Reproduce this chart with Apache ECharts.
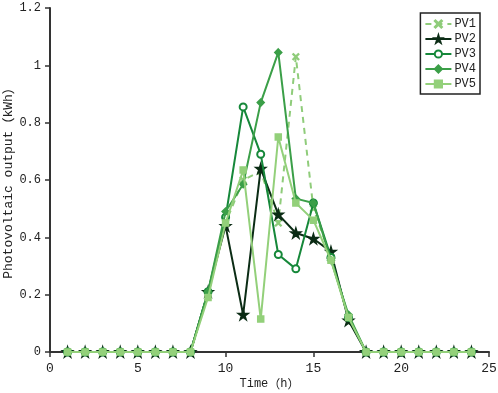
<!DOCTYPE html>
<html>
<head>
<meta charset="utf-8">
<script src="https://cdn.jsdelivr.net/npm/echarts@6/dist/echarts.min.js"></script>
<style>
  html, body { margin: 0; padding: 0; background: #fff; }
  #chart { width: 498px; height: 393px; }
</style>
</head>
<body>
<div id="chart"></div>
<script>
// hours 1..24
const hours = [1, 2, 3, 4, 5, 6, 7, 8, 9, 10, 11, 12, 13, 14, 15, 16, 17, 18, 19, 20, 21, 22, 23, 24];
const pv1 = [0, 0, 0, 0, 0, 0, 0, 0, 0.20, 0.45, 0.60, 0.63, 0.45, 1.03, 0.50, 0.33, 0.12, 0, 0, 0, 0, 0, 0, 0];
const pv2 = [0, 0, 0, 0, 0, 0, 0, 0, 0.21, 0.44, 0.13, 0.64, 0.48, 0.415, 0.395, 0.35, 0.11, 0, 0, 0, 0, 0, 0, 0];
const pv3 = [0, 0, 0, 0, 0, 0, 0, 0, 0.21, 0.47, 0.855, 0.69, 0.34, 0.29, 0.52, 0.33, 0.12, 0, 0, 0, 0, 0, 0, 0];
const pv4 = [0, 0, 0, 0, 0, 0, 0, 0, 0.21, 0.49, 0.585, 0.87, 1.045, 0.535, 0.52, 0.32, 0.13, 0, 0, 0, 0, 0, 0, 0];
const pv5 = [0, 0, 0, 0, 0, 0, 0, 0, 0.19, 0.45, 0.635, 0.115, 0.75, 0.52, 0.46, 0.32, 0.12, 0, 0, 0, 0, 0, 0, 0];

const seriesNames = ['PV1', 'PV2', 'PV3', 'PV4', 'PV5'];
const seriesValues = [pv1, pv2, pv3, pv4, pv5];

const font = "'Liberation Mono', 'Noto Sans CJK SC', monospace";
const cjk = "'Noto Sans CJK SC'";

// marker shapes
const xMark = 'path://M1,0L5,4L9,0L10,1L6,5L10,9L9,10L5,6L1,10L0,9L4,5L0,1Z';
const star = 'path://M50,0L61,35L98,35L68,57L79,91L50,70L21,91L32,57L2,35L39,35Z';

const styles = [
  { color: '#8fcc7a', symbol: xMark, size: 6, dash: [6, 5], width: 2 },
  { color: '#0b2c15', symbol: star, size: 10, dash: 'solid', width: 2 },
  { color: '#16883a', symbol: 'emptyCircle', size: 7, dash: 'solid', width: 2 },
  { color: '#3b9f48', symbol: 'diamond', size: 7, dash: 'solid', width: 2 },
  { color: '#93d07a', symbol: 'rect', size: 6, dash: 'solid', width: 2 },
];

const chart = echarts.init(document.getElementById('chart'));

const option = {
  animation: false,
  grid: { left: 50, right: 9, top: 8, bottom: 41, containLabel: false, outerBoundsMode: 'none' },
  legend: {
    orient: 'vertical',
    right: 18,
    top: 13,
    padding: [5, 4, 4, 4],
    itemGap: 3,
    itemWidth: 26,
    itemHeight: 9,
    borderColor: '#222',
    borderWidth: 1.5,
    textStyle: { fontFamily: font, fontSize: 12, color: '#222', padding: [0, 0, 0, -2] },
    data: seriesNames,
  },
  xAxis: {
    type: 'value',
    min: 0,
    max: 25,
    interval: 5,
    name: 'Time{p|\uff08}h{p|\uff09}',
    nameLocation: 'middle',
    nameGap: 26,
    nameMoveOverlap: false,
    nameTextStyle: { fontFamily: font, fontSize: 12, color: '#222', rich: { p: { fontFamily: cjk, fontSize: 12, color: '#222' } } },
    axisLine: { show: true, lineStyle: { color: '#333', width: 2 } },
    axisTick: { show: true, length: 5, lineStyle: { color: '#333', width: 1.5 } },
    axisLabel: { fontFamily: font, fontSize: 13, color: '#222', margin: 10 },
    splitLine: { show: false },
  },
  yAxis: {
    type: 'value',
    min: 0,
    max: 1.2,
    interval: 0.2,
    name: 'Photovoltaic output{p|\uff08}kWh{p|\uff09}',
    nameLocation: 'middle',
    nameGap: 35,
    nameMoveOverlap: false,
    nameTextStyle: { fontFamily: font, fontSize: 13, color: '#222', rich: { p: { fontFamily: cjk, fontSize: 13, color: '#222' } } },
    axisLine: { show: true, lineStyle: { color: '#333', width: 2 } },
    axisTick: { show: true, length: 5, lineStyle: { color: '#333', width: 1.5 } },
    axisLabel: {
      fontFamily: font, fontSize: 12, color: '#222', margin: 9,
      formatter: (v) => String(parseFloat(v.toFixed(1))),
    },
    splitLine: { show: false },
  },
  series: seriesNames.map((name, i) => ({
    name: name,
    type: 'line',
    data: hours.map((h, j) => [h, seriesValues[i][j]]),
    symbol: styles[i].symbol,
    symbolSize: styles[i].size,
    showAllSymbol: true,
    color: styles[i].color,
    lineStyle: { color: styles[i].color, width: styles[i].width, type: styles[i].dash },
    itemStyle: { color: styles[i].color, borderColor: styles[i].color, borderWidth: 1.5 },
    z: 2 + i,
  })),
};

chart.setOption(option);
</script>
</body>
</html>
